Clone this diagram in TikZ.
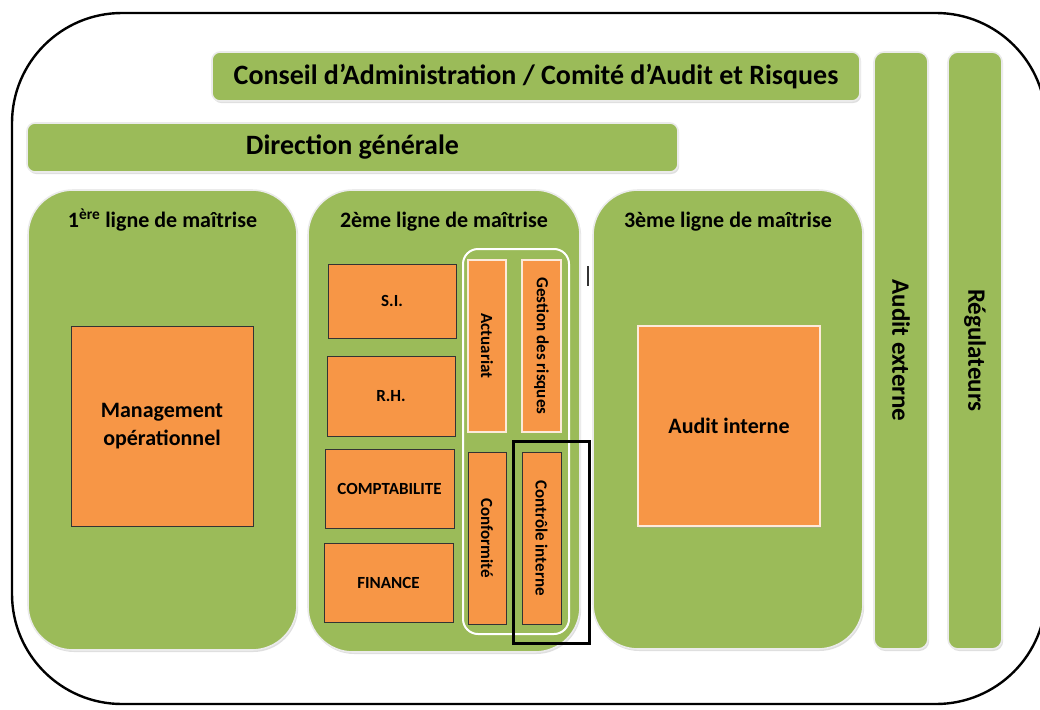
\documentclass[tikz,border=0pt]{standalone}
\usepackage{fontspec}
\setmainfont{Carlito}
\usetikzlibrary{positioning,shadows}
\definecolor{vertbox}{HTML}{9BBB59}
\definecolor{orangebox}{HTML}{F79646}

\begin{document}
\begin{tikzpicture}[x=1pt,y=-1pt,inner sep=0pt,
	vert/.style={draw=white!92!black,line width=1.6pt,fill=vertbox,rounded corners=#1,
		drop shadow={shadow xshift=1.2pt,shadow yshift=-2pt,fill=black!25}},
	vert/.default=8pt,
	orange/.style={draw=black!80,line width=0.9pt,fill=orangebox,align=center},
	orangeclair/.style={draw=white!80!orangebox,line width=1.2pt,fill=orangebox,align=center},
	titre/.style={font=\fontsize{22}{26}\selectfont\bfseries},
	grand/.style={font=\fontsize{28}{32}\selectfont\bfseries},
	colonne/.style={font=\fontsize{25}{30}\selectfont\bfseries},
	petit/.style={font=\fontsize{17}{20}\selectfont\bfseries}]
	\clip (0,0) rectangle (1040,709);
	\node[draw,line width=2.4pt,rounded corners=110pt,minimum width=1034,minimum height=691] (cadre) at (529,358.5) {};
	\node[vert,grand,minimum width=648,minimum height=49] (conseil) at (536,76.5) {Conseil d’Administration / Comité d’Audit et Risques};
	\node[vert,grand,minimum width=651,minimum height=49] (direction) at (352.5,147.5) {Direction générale};
	\node[vert=10pt,colonne,rotate=-90,minimum width=597,minimum height=54] (externe) at (901,350.5) {Audit externe};
	\node[vert=10pt,colonne,rotate=-90,minimum width=597,minimum height=54] (regul) at (975,350.5) {Régulateurs};
	\node[vert=45pt,minimum width=269,minimum height=460] (ligne1) at (162.5,420) {};
	\node[vert=45pt,minimum width=272,minimum height=462] (ligne2) at (444,421) {};
	\node[vert=45pt,minimum width=270,minimum height=459] (ligne3) at (728,419.5) {};
	\node[titre,anchor=base] (titre1) at ([yshift=-38pt]ligne1.north) {1\textsuperscript{ère} ligne de maîtrise};
	\node[titre,anchor=base] (titre2) at ([yshift=-38pt]ligne2.north) {2ème ligne de maîtrise};
	\node[titre,anchor=base] (titre3) at ([yshift=-38pt]ligne3.north) {3ème ligne de maîtrise};
	\node[orange,titre,minimum width=182,minimum height=200] (management) at (162,426) {Management\\[2pt]opérationnel};
	\node[orangeclair,titre,minimum width=182,minimum height=200,
		drop shadow={shadow xshift=1pt,shadow yshift=-1.5pt,fill=black!35}] (interne) at (729,426) {Audit interne};
	\node[orange,petit,minimum width=128,minimum height=74] (si) at (392,301) {S.I.};
	\node[orange,petit,minimum width=128,minimum height=80] (rh) at (391,396) {R.H.};
	\node[orange,petit,minimum width=129,minimum height=79] (compta) at (389.5,488.5) {COMPTABILITE};
	\node[orange,petit,minimum width=129,minimum height=79] (finance) at (388.5,582.5) {FINANCE};
	\node[draw=white,line width=2pt,rounded corners=15pt,minimum width=106,minimum height=385] (groupe) at (516,441.5) {};
	\node[orangeclair,petit,rotate=-90,minimum width=172,minimum height=38] (actuariat) at (487,346) {Actuariat};
	\node[orangeclair,petit,rotate=-90,minimum width=172,minimum height=39] (risques) at (541.5,346) {Gestion des risques};
	\node[orange,petit,rotate=-90,minimum width=172,minimum height=38] (conformite) at (487,538) {Conformité};
	\node[orange,petit,rotate=-90,minimum width=172,minimum height=39] (controle) at (541.5,538) {Contrôle interne};
	\node[draw,line width=3pt,minimum width=76,minimum height=202] (encadre) at (551,542) {};
	\node[fill=black!80,minimum width=1.5,minimum height=20] (trait) at (588,276) {};
\end{tikzpicture}
\end{document}
